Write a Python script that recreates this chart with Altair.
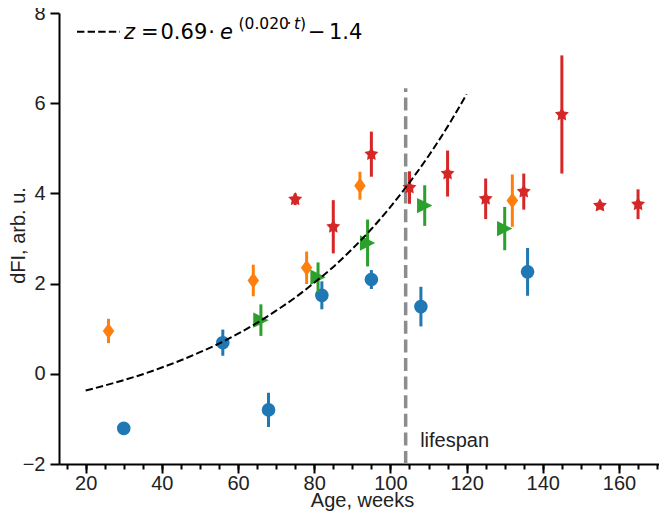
import altair as alt
import pandas as pd
import numpy as np

# ---- data ----
blue_t = [30, 56, 68, 82, 95, 108, 136]
blue_v = [-1.21, 0.69, -0.80, 1.74, 2.09, 1.49, 2.26]
blue_e = [0.05, 0.29, 0.38, 0.31, 0.21, 0.44, 0.53]

orange_t = [26, 64, 78, 92, 132]
orange_v = [0.95, 2.07, 2.35, 4.17, 3.84]
orange_e = [0.27, 0.35, 0.36, 0.31, 0.58]

green_t = [66, 81, 94, 109, 130]
green_v = [1.19, 2.14, 2.90, 3.73, 3.22]
green_e = [0.35, 0.33, 0.52, 0.45, 0.48]

red_t = [75, 85, 95, 105, 115, 125, 135, 145, 155, 165]
red_v = [3.87, 3.26, 4.87, 4.13, 4.44, 3.88, 4.04, 5.75, 3.73, 3.76]
red_e = [0.13, 0.59, 0.50, 0.36, 0.51, 0.45, 0.40, 1.31, 0.07, 0.33]

curve_t = [20, 25, 30, 35, 40, 45, 50, 55, 60, 65, 70, 75, 80, 85, 90, 95, 100, 105, 110, 115, 120]
curve_z = [-0.37, -0.26, -0.14, -0.01, 0.14, 0.30, 0.48, 0.67, 0.89, 1.13, 1.40, 1.69, 2.02, 2.37,
           2.77, 3.21, 3.70, 4.24, 4.83, 5.48, 6.20]

life_t = [104]
life_top = [6.33]
life_label = ["lifespan"]
life_label_t = [107.8]
life_label_v = [-1.62]

x_major = [20, 40, 60, 80, 100, 120, 140, 160]
x_minor = list(range(15, 171, 5))
y_ticks = [-2, 0, 2, 4, 6, 8]

FONT = "Liberation Sans"
MFONT = "DejaVu Sans"

xs = alt.Scale(domain=[13, 170.5], nice=False, zero=False)
ys = alt.Scale(domain=[-2, 8], nice=False, zero=False)


def frame(t, v, e):
    t = np.array(t, dtype=float)
    v = np.array(v, dtype=float)
    e = np.array(e, dtype=float)
    return pd.DataFrame({"t": t, "v": v, "lo": v - e, "hi": v + e})


def star_path(inner=0.5):
    pts = []
    for i in range(10):
        r = 1.0 if i % 2 == 0 else inner
        a = np.pi / 5 * i
        pts.append((r * np.sin(a), -r * np.cos(a)))
    return "M" + "L".join(f"{x:.3f},{y:.3f}" for x, y in pts) + "Z"


groups = [
    (frame(blue_t, blue_v, blue_e), "#1f77b4", "circle", 185),
    (frame(orange_t, orange_v, orange_e), "#ff7f0e", "M0,-1L0.72,0L0,1L-0.72,0Z", 256),
    (frame(green_t, green_v, green_e), "#2ca02c", "M1,0L-1,-1L-1,1Z", 235),
    (frame(red_t, red_v, red_e), "#d62728", star_path(0.52), 215),
]

layers = []

# lifespan line
life_df = pd.DataFrame({"t": life_t, "lo": [-2.0], "top": life_top})
layers.append(
    alt.Chart(life_df).mark_rule(color="#8c8c8c", strokeWidth=3.5, strokeDash=[13, 5.6]).encode(
        x=alt.X("t:Q", scale=xs, axis=None),
        y=alt.Y("lo:Q", scale=ys, axis=None),
        y2="top:Q",
    )
)

for df, color, shape, size in groups:
    layers.append(
        alt.Chart(df).mark_rule(color=color, strokeWidth=3).encode(
            x=alt.X("t:Q", scale=xs, axis=None),
            y=alt.Y("lo:Q", scale=ys, axis=None),
            y2="hi:Q",
        )
    )
    layers.append(
        alt.Chart(df).mark_point(shape=shape, size=size, filled=True, opacity=1, color=color, strokeWidth=0).encode(
            x=alt.X("t:Q", scale=xs, axis=None),
            y=alt.Y("v:Q", scale=ys, axis=None),
        )
    )

curve_df = pd.DataFrame({"t": curve_t, "z": curve_z})
layers.append(
    alt.Chart(curve_df).mark_line(color="black", strokeWidth=2, strokeDash=[7.4, 3.2], interpolate="monotone").encode(
        x=alt.X("t:Q", scale=xs, axis=None),
        y=alt.Y("z:Q", scale=ys, axis=None),
    )
)

# lifespan label
lab_df = pd.DataFrame({"t": life_label_t, "v": life_label_v, "txt": life_label})
layers.append(
    alt.Chart(lab_df).mark_text(font=FONT, fontSize=20, align="left", baseline="alphabetic", color="#222222").encode(
        x=alt.X("t:Q", scale=xs, axis=None),
        y=alt.Y("v:Q", scale=ys, axis=None),
        text="txt:N",
    )
)

# axes carriers (invisible)
major_axis = alt.Axis(
    values=x_major, format="d", orient="bottom", grid=False,
    tickSize=9, tickWidth=2, tickColor="black",
    domainWidth=2, domainColor="black",
    labelFont=FONT, labelFontSize=20, labelColor="#222222", labelBaseline="alphabetic",
    labelPadding=16, labelFlush=False,
    title="Age, weeks", titleFont=FONT, titleFontSize=20, titleFontWeight="normal",
    titleColor="#222222", titleX=303, titleY=42, titleBaseline="alphabetic", titleAlign="center",
)
minor_axis = alt.Axis(
    values=x_minor, orient="bottom", grid=False, labels=False, domain=False,
    tickSize=5, tickWidth=2, tickColor="black", title=None,
)
y_axis = alt.Axis(
    values=y_ticks, format="d", orient="left", grid=False,
    tickSize=9, tickWidth=2, tickColor="black",
    domainWidth=2, domainColor="black",
    labelFont=FONT, labelFontSize=20, labelColor="#222222", labelPadding=5,
    title="dFI, arb. u.", titleFont=FONT, titleFontSize=20, titleFontWeight="normal",
    titleColor="#222222", titleX=-35, titleY=222, titleAngle=270,
    titleBaseline="alphabetic", titleAlign="center",
)

layers.append(
    alt.Chart(curve_df).mark_point(opacity=0).encode(
        x=alt.X("t:Q", scale=xs, axis=major_axis),
        y=alt.Y("z:Q", scale=ys, axis=y_axis),
    )
)
layers.append(
    alt.Chart(curve_df).mark_point(opacity=0).encode(
        x=alt.X("t:Q", scale=xs, axis=minor_axis),
        y=alt.Y("z:Q", scale=ys, axis=None),
    )
)

# legend (annotation in pixel space of the plot area)
one = pd.DataFrame({"a": [0]})
layers.append(
    alt.Chart(one).mark_rule(color="black", strokeWidth=2, strokeDash=[7.4, 3.2]).encode(
        x=alt.value(18), x2=alt.value(61), y=alt.value(18.7)
    )
)
legend_parts = [
    ("z", 65, 25.5, 21, "italic", "left"),
    ("=", 82, 25.5, 21, "normal", "left"),
    ("0.69", 101.5, 25.5, 21, "normal", "left"),
    ("·", 152.5, 25.5, 21, "normal", "center"),
    ("e", 161, 25.5, 21, "italic", "left"),
    ("(0.020", 179.5, 16.3, 15.5, "normal", "left"),
    ("·", 230, 16.3, 15.5, "normal", "center"),
    ("t", 235, 16.3, 15.5, "italic", "left"),
    (")", 241, 16.3, 15.5, "normal", "left"),
    ("−", 249, 25.5, 21, "normal", "left"),
    ("1.4", 270, 25.5, 21, "normal", "left"),
]
for txt, px, py, fs, style, al in legend_parts:
    layers.append(
        alt.Chart(one).mark_text(font=MFONT, fontSize=fs, fontStyle=style, align=al,
                                 baseline="alphabetic", color="black").encode(
            x=alt.value(px), y=alt.value(py), text=alt.value(txt)
        )
    )

chart = alt.layer(*layers).properties(
    width=600, height=451,
    autosize=alt.AutoSizeParams(type="none"),
    padding={"left": 51, "top": 5, "right": 0, "bottom": 47},
).resolve_axis(x="independent", y="independent").configure_view(strokeWidth=0)

chart.save("out.html", embed_options={"renderer": "svg", "actions": False})
